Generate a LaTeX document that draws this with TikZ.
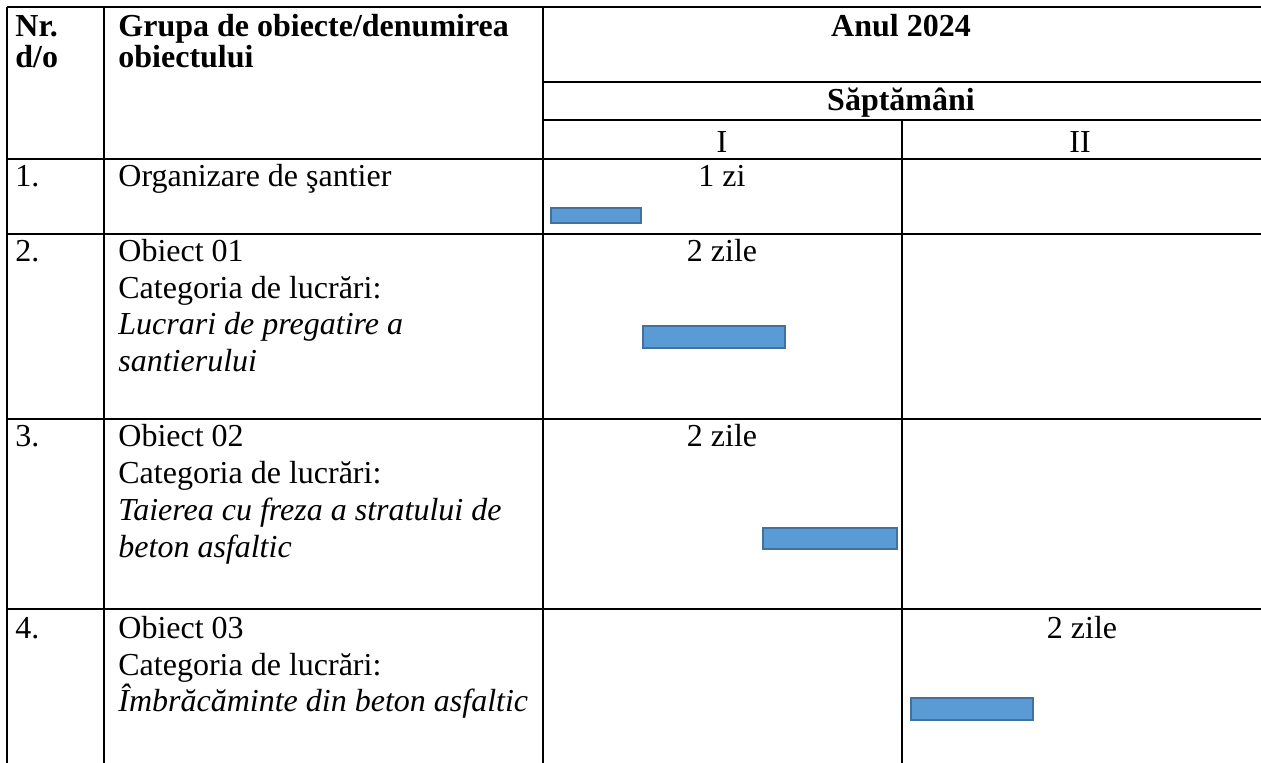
\documentclass[tikz,border=0pt]{standalone}
\usepackage{fontspec}
\setmainfont{Liberation Serif}
\definecolor{barfill}{HTML}{5B9BD5}
\definecolor{barline}{HTML}{41719C}
\tikzset{
  cell/.style={anchor=base west, inner sep=0pt, font=\fontsize{16}{18}\selectfont},
  head/.style={cell, font=\fontsize{16}{18}\selectfont\bfseries},
  rule/.style={line width=1pt, color=black},
  bar/.style={line width=1pt, draw=barline, fill=barfill}
}
\begin{document}
\begin{tikzpicture}[x=1pt, y=-1pt, scale=0.5]
        \useasboundingbox (0,0) rectangle (1261,763);

        % Grid
        \begin{scope}[rule]
          % Vertical rules
          \draw (7,7) -- (7,763);
          \draw (104,7) -- (104,763);
          \draw (543,7) -- (543,763);
          \draw (902,120) -- (902,763);
          % Horizontal rules
          \draw (7,7) -- (1261,7);
          \draw (543,82) -- (1261,82);
          \draw (543,120) -- (1261,120);
          \draw (7,159) -- (1261,159);
          \draw (7,234) -- (1261,234);
          \draw (7,419) -- (1261,419);
          \draw (7,609) -- (1261,609);
        \end{scope}

        % Header
        \node[head] (nr1) at (15,37) {Nr.};
        \node[head] (nr2) at (15,68) {d/o};
        \node[head] (grupa1) at (118,37) {Grupa de obiecte/denumirea};
        \node[head] (grupa2) at (118,68) {obiectului};
        \node[head, anchor=base] (anul) at (901,37) {Anul 2024};
        \node[head, anchor=base] (sapt) at (901,111) {Săptămâni};
        \node[cell, anchor=base] (wk1) at (722,153) {I};
        \node[cell, anchor=base] (wk2) at (1080,153) {II};

        % Row 1
        \node[cell] (n1) at (15,187) {1.};
        \node[cell] (obj1) at (118,187) {Organizare de şantier};
        \node[cell, anchor=base] (d1) at (722,187) {1 zi};
        \filldraw[bar] (551,208) rectangle (641,223);

        % Row 2
        \node[cell] (n2) at (15,262) {2.};
        \node[cell] (obj2a) at (118,262) {Obiect 01};
        \node[cell] (obj2b) at (118,299) {Categoria de lucrări:};
        \node[cell] (obj2c) at (118,335) {\itshape Lucrari de pregatire a};
        \node[cell] (obj2d) at (118,372) {\itshape santierului};
        \node[cell, anchor=base] (d2) at (722,262) {2 zile};
        \filldraw[bar] (643,326) rectangle (785,348);

        % Row 3
        \node[cell] (n3) at (15,447) {3.};
        \node[cell] (obj3a) at (118,447) {Obiect 02};
        \node[cell] (obj3b) at (118,484) {Categoria de lucrări:};
        \node[cell] (obj3c) at (118,520) {\itshape Taierea cu freza a stratului de};
        \node[cell] (obj3d) at (118,557) {\itshape beton asfaltic};
        \node[cell, anchor=base] (d3) at (722,447) {2 zile};
        \filldraw[bar] (763,528) rectangle (897,549);

        % Row 4
        \node[cell] (n4) at (15,638) {4.};
        \node[cell] (obj4a) at (118,638) {Obiect 03};
        \node[cell] (obj4b) at (118,675) {Categoria de lucrări:};
        \node[cell] (obj4c) at (118,711) {\itshape Îmbrăcăminte din beton asfaltic};
        \node[cell, anchor=base] (d4) at (1082,638) {2 zile};
        \filldraw[bar] (911,698) rectangle (1033,720);
      \end{tikzpicture}
\end{document}
